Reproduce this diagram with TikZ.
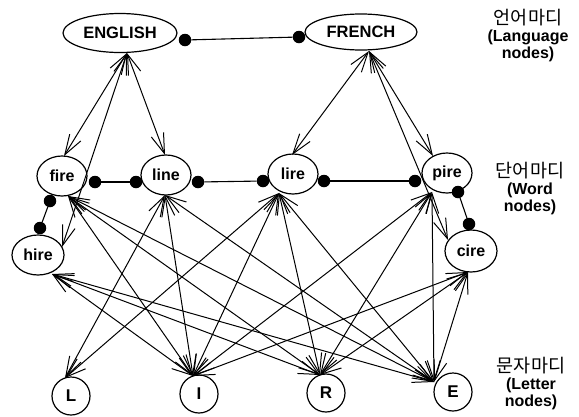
\documentclass[tikz,border=0pt]{standalone}
\usepackage{fontspec}
\setmainfont{Liberation Sans}
\newfontfamily\krfont{Noto Sans CJK KR}
\usetikzlibrary{shapes.geometric,arrows.meta,calc}

\newcommand{\krline}[1]{{\mdseries\krfont\fontsize{18.5}{20}\selectfont #1}}

\begin{document}
\begin{tikzpicture}[x=1pt,y=-1pt,
  barb/.tip={Straight Barb[length=20pt,width=13pt]},
  link/.style={line width=1pt,barb-barb},
  inhib/.style={line width=1.1pt},
  dot/.style={circle,fill=black,inner sep=0pt,minimum size=12.5pt},
  lang/.style={ellipse,draw,line width=1.2pt,inner sep=0pt,
    font=\fontsize{16.5}{18}\selectfont\bfseries},
  word/.style={ellipse,draw,line width=1.2pt,inner sep=0pt,
    minimum width=50pt,minimum height=40pt,
    font=\fontsize{16}{18}\selectfont\bfseries},
  letter/.style={circle,draw,line width=1.2pt,inner sep=0pt,
    minimum size=38pt,font=\fontsize{17}{18}\selectfont\bfseries},
  layer/.style={align=center,inner sep=0pt,
    font=\fontsize{16}{17}\selectfont\bfseries}
]
\useasboundingbox (0,0) rectangle (579,416);

% language nodes
\node[lang,minimum width=114pt,minimum height=39pt] (en) at (120,33) {ENGLISH};
\node[lang,minimum width=112pt,minimum height=36pt] (fr) at (361,32) {FRENCH};

% word nodes
\node[word] (fire) at (62,176) {fire};
\node[word] (line) at (166,175) {line};
\node[word] (lire) at (293,174) {lire};
\node[word] (pire) at (447,173) {pire};
\node[word,minimum width=52pt] (hire) at (38,255) {hire};
\node[word,minimum width=52pt,minimum height=42pt] (cire) at (471,251) {cire};

% letter nodes
\node[letter] (L) at (71,396) {L};
\node[letter] (I) at (199,394) {I};
\node[letter] (R) at (326,393) {R};
\node[letter] (E) at (453,392) {E};

% layer captions
\node[layer] (langcap) at (528,36) {\krline{언어마디}\\(Language\\nodes)};
\node[layer] (wordcap) at (530,189) {\krline{단어마디}\\(Word\\nodes)};
\node[layer] (lettcap) at (531,384) {\krline{문자마디}\\(Letter\\nodes)};

% attachment points of the excitatory links
\coordinate (enS) at (127,53);
\coordinate (frS) at (369,51);
\coordinate (fireN) at (64,156);
\coordinate (lineN) at (165,155);
\coordinate (hireN) at (62,247);
\coordinate (lireN) at (292,155);
\coordinate (pireN) at (433,156);
\coordinate (cireN) at (448,240);
\coordinate (fireS) at (68,196);
\coordinate (hireS) at (52,274);
\coordinate (lineS) at (165,195);
\coordinate (lireS) at (279,193);
\coordinate (pireS) at (432,192);
\coordinate (cireS) at (468,272);
\coordinate (Lt) at (65,378);
\coordinate (It) at (193,376);
\coordinate (Rt) at (320,375);
\coordinate (Et) at (434,382);

% language <-> word links
\foreach \w in {fireN,lineN,hireN} \draw[link] (enS) -- (\w);
\foreach \w in {lireN,pireN,cireN} \draw[link] (frS) -- (\w);

% word <-> letter links
\foreach \w in {fireS,hireS,pireS,cireS}
  \foreach \l in {It,Rt,Et} \draw[link] (\w) -- (\l);
\foreach \l in {Lt,It,Et} \draw[link] (lineS) -- (\l);
\foreach \l in {Lt,It,Rt,Et} \draw[link] (lireS) -- (\l);

% inhibitory links within a layer
\node[dot] (d1) at (185,40) {};
\node[dot] (d2) at (299,37) {};
\node[dot] (d3) at (95,182) {};
\node[dot] (d4) at (136,182) {};
\node[dot] (d5) at (198,182) {};
\node[dot] (d6) at (263,181) {};
\node[dot] (d7) at (324,181) {};
\node[dot] (d8) at (415,181) {};
\node[dot] (d9) at (50,201) {};
\node[dot] (d10) at (40,228) {};
\node[dot] (d11) at (458,192) {};
\node[dot] (d12) at (469,224) {};
\draw[inhib] (d1) -- (d2);
\draw[inhib] (d3) -- (d4);
\draw[inhib] (d5) -- (d6);
\draw[inhib] (d7) -- (d8);
\draw[inhib] (d9) -- (d10);
\draw[inhib] (d11) -- (d12);
\end{tikzpicture}
\end{document}
